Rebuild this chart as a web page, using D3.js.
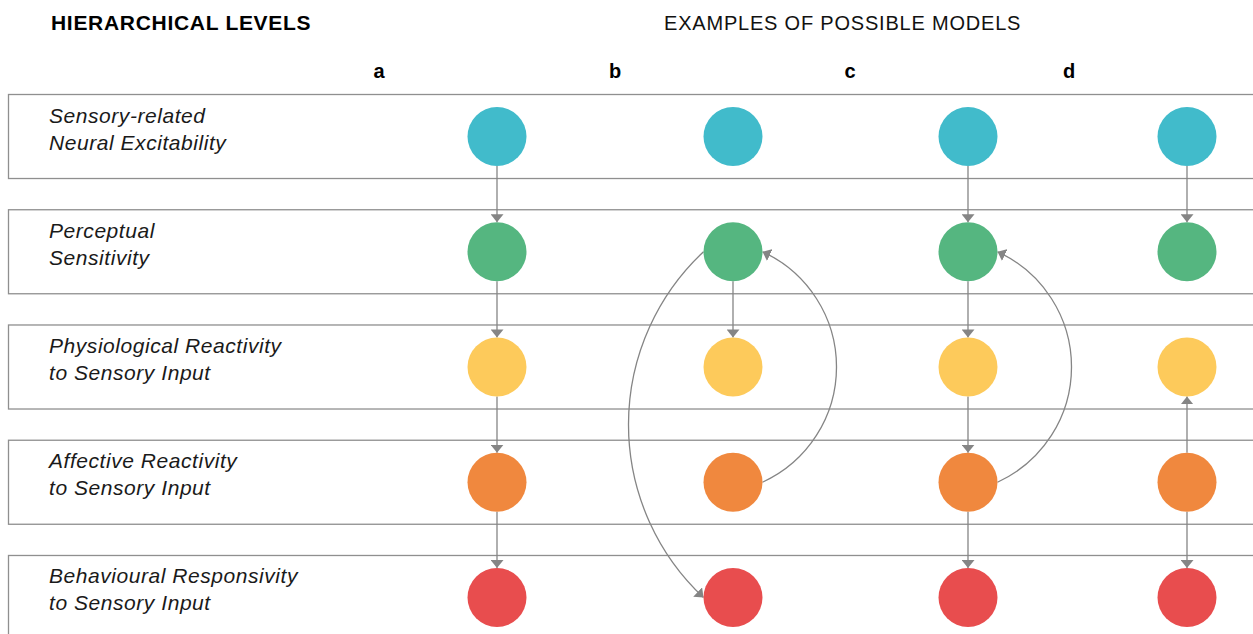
<!DOCTYPE html>
<html><head><meta charset="utf-8">
<script src="https://cdn.jsdelivr.net/npm/d3@7"></script>
<style>body{margin:0;background:#fff;} svg{display:block;}</style>
</head><body>
<svg id="chart" width="1253" height="634"></svg>
<script>
// ---- data ----
const levels = [
  ["Sensory-related", "Neural Excitability"],
  ["Perceptual", "Sensitivity"],
  ["Physiological Reactivity", "to Sensory Input"],
  ["Affective Reactivity", "to Sensory Input"],
  ["Behavioural Responsivity", "to Sensory Input"]
];
const levelColors = ["#41BBCB", "#55B680", "#FDCA5B", "#F0883E", "#E84D4E"];
const models = ["a", "b", "c", "d"];
// edges: [model, from level, to level, kind]
const edgesA = [["a",0,1,"straight"],["a",1,2,"straight"],["a",2,3,"straight"],["a",3,4,"straight"]];
const edgesB = [["b",1,2,"straight"],["b",3,1,"arcRight"],["b",1,4,"arcLeft"]];
const edgesC = [["c",0,1,"straight"],["c",1,2,"straight"],["c",2,3,"straight"],["c",3,4,"straight"],["c",3,1,"arcRight"]];
const edgesD = [["d",0,1,"straight"],["d",3,2,"straight"],["d",3,4,"straight"]];
const leftTitle = "HIERARCHICAL LEVELS";
const rightTitle = "EXAMPLES OF POSSIBLE MODELS";

// ---- layout ----
const svg = d3.select("#chart");
const R = 29.5;
const rowIdx = d3.range(levels.length);
const yBand = d3.scaleBand().domain(rowIdx).range([94.5, 639.5]).paddingInner(0.271).paddingOuter(0);
const yC = i => yBand(i) + 42;
const xC = d3.scaleOrdinal().domain(models).range([497, 733, 968, 1187]);
const labelOffset = -118;
const FONT = "Liberation Sans, Arial, Helvetica, sans-serif";

const gray = "#858585";
const defs = svg.append("defs");
defs.append("marker").attr("id","arr").attr("viewBox","0 0 10 10")
  .attr("refX",10).attr("refY",5).attr("markerUnits","userSpaceOnUse")
  .attr("markerWidth",8).attr("markerHeight",13).attr("orient","auto")
  .attr("preserveAspectRatio","none")
  .append("path").attr("d","M0,0L10,5L0,10Z").attr("fill",gray);

// titles
svg.append("text").attr("x",51).attr("y",30).text(leftTitle)
  .attr("font-family",FONT).attr("font-weight","bold").attr("font-size",21)
  .attr("letter-spacing",0.7).attr("fill","#000");
svg.append("text").attr("x",664).attr("y",30).text(rightTitle)
  .attr("font-family",FONT).attr("font-size",20).attr("letter-spacing",0.8).attr("fill","#111");

// column labels
svg.selectAll("text.col").data(models).join("text").attr("class","col")
  .attr("x",d=>xC(d)+labelOffset).attr("y",78).attr("text-anchor","middle").text(d=>d)
  .attr("font-family",FONT).attr("font-weight","bold").attr("font-size",20);

// row boxes
svg.selectAll("rect.row").data(rowIdx).join("rect").attr("class","row")
  .attr("x",8.5).attr("y",d=>yBand(d)).attr("width",1260).attr("height",yBand.bandwidth())
  .attr("fill","none").attr("stroke","#8f8f8f").attr("stroke-width",1.3);

// row labels
const lg = svg.selectAll("g.lbl").data(levels).join("g").attr("class","lbl");
lg.selectAll("text").data((d,i)=>d.map((t,j)=>({t,i,j}))).join("text")
  .attr("x",49).attr("y",d=>yBand(d.i)+28+d.j*27).text(d=>d.t)
  .attr("font-family",FONT).attr("font-style","italic")
  .attr("font-size",21).attr("letter-spacing",0.55).attr("fill","#1a1a1a");

// edges
const allEdges = [...edgesA, ...edgesB, ...edgesC, ...edgesD];
function edgePath(e){
  const [m,f,t,kind] = e;
  const x = xC(m);
  if(kind==="straight"){
    const dir = t>f ? 1 : -1;
    return `M${x},${yC(f)+dir*R}L${x},${yC(t)-dir*R}`;
  }
  const side = kind==="arcRight" ? 1 : -1;
  const sag = kind==="arcRight" ? 74 : 75;
  const x0 = x + side*R, y0 = yC(f), x1 = x + side*R, y1 = yC(t);
  const half = Math.abs(y1-y0)/2;
  const r = (half*half + sag*sag)/(2*sag);
  const up = y1 < y0;
  let sweep;
  if(side===1) sweep = up ? 0 : 1; else sweep = up ? 1 : 0;
  return `M${x0},${y0}A${r},${r} 0 0 ${sweep} ${x1},${y1}`;
}
svg.selectAll("path.edge").data(allEdges).join("path").attr("class","edge")
  .attr("d",edgePath).attr("fill","none").attr("stroke",gray).attr("stroke-width",1.3)
  .attr("marker-end","url(#arr)");

// nodes
const nodes = [];
models.forEach(m => rowIdx.forEach(i => nodes.push({m,i})));
svg.selectAll("circle.node").data(nodes).join("circle").attr("class","node")
  .attr("cx",d=>xC(d.m)).attr("cy",d=>yC(d.i)).attr("r",R).attr("fill",d=>levelColors[d.i]);
</script>
</body></html>
